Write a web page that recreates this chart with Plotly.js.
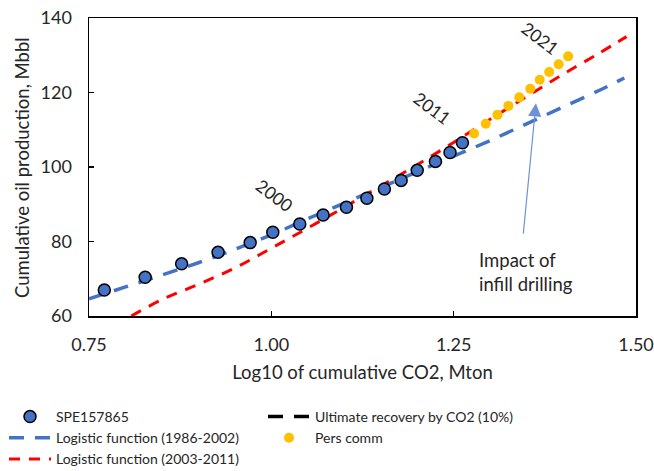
<!DOCTYPE html>
<html>
<head>
<meta charset="utf-8">
<script src="https://cdn.plot.ly/plotly-3.0.1.min.js"></script>
<style>
  html, body { margin: 0; padding: 0; background: #fff; }
  #chart { width: 654px; height: 471px; }
</style>
</head>
<body>
<div id="chart"></div>
<script>
// Field data: log10 of cumulative CO2 injected (Mton) vs cumulative oil (Mbbl)
const speLogCO2 = [0.771, 0.827, 0.877, 0.927, 0.971, 1.002, 1.039, 1.071, 1.103, 1.131, 1.155, 1.178, 1.200, 1.225, 1.245, 1.262];
const speOil    = [67.0, 70.4, 74.0, 77.1, 79.7, 82.5, 84.7, 87.1, 89.2, 91.6, 94.1, 96.4, 99.1, 101.5, 103.9, 106.5];

const persLogCO2 = [1.278, 1.294, 1.310, 1.325, 1.340, 1.355, 1.368, 1.381, 1.394, 1.407];
const persOil    = [109.0, 111.6, 114.0, 116.4, 118.7, 121.0, 123.4, 125.5, 127.6, 129.7];

// Logistic fits, sampled along the curves
const fit8602LogCO2 = [0.75, 0.80, 0.85, 0.90, 0.95, 1.00, 1.05, 1.10, 1.15, 1.20, 1.25, 1.30, 1.35, 1.40, 1.45, 1.484];
const fit8602Oil    = [64.6, 67.8, 71.0, 74.3, 77.9, 81.8, 86.1, 90.3, 94.5, 98.7, 102.9, 107.1, 111.6, 116.1, 120.6, 123.9];

const fit0311LogCO2 = [0.808, 0.85, 0.90, 0.95, 1.00, 1.05, 1.10, 1.15, 1.20, 1.25, 1.30, 1.35, 1.40, 1.45, 1.487];
const fit0311Oil    = [60.0, 64.4, 68.5, 72.9, 78.2, 83.6, 89.2, 94.9, 100.6, 106.6, 112.8, 118.9, 124.9, 130.6, 135.0];

// Ultimate recovery by CO2 (10%) lies outside the plotted window; legend entry only
const ultimateLogCO2 = [null];
const ultimateOil    = [null];

const yearLabels = ['2000', '2011', '2021'];
const yearLabelX = [1.004, 1.221, 1.369];
const yearLabelY = [92.3, 115.8, 134.6];

const xTicks = [0.75, 1.00, 1.25, 1.50];
const yTicks = [60, 80, 100, 120, 140];

const BLUE = '#4472C4', RED = '#FF0000', GOLD = '#FFC000';
const TXT = '#262626';
const FONT = 'Lato, "Open Sans", sans-serif';

const traces = [
  {
    x: fit8602LogCO2, y: fit8602Oil, type: 'scatter', mode: 'lines',
    name: 'Logistic function (1986-2002)', legend: 'legend', legendrank: 2,
    line: { color: BLUE, width: 3.5, dash: '15px,11px', shape: 'spline' }
  },
  {
    x: fit0311LogCO2, y: fit0311Oil, type: 'scatter', mode: 'lines',
    name: 'Logistic function (2003-2011)', legend: 'legend', legendrank: 3,
    line: { color: RED, width: 3, dash: '11px,9px', shape: 'spline' }
  },
  {
    x: ultimateLogCO2, y: ultimateOil, type: 'scatter', mode: 'lines',
    name: 'Ultimate recovery by CO2 (10%)', legend: 'legend2', legendrank: 1,
    line: { color: '#000000', width: 3.5, dash: '15px,11px' }
  },
  {
    x: speLogCO2, y: speOil, type: 'scatter', mode: 'markers',
    name: 'SPE157865', legend: 'legend', legendrank: 1,
    marker: { color: BLUE, size: 12, line: { color: '#000000', width: 1.5 } }
  },
  {
    x: persLogCO2, y: persOil, type: 'scatter', mode: 'markers',
    name: 'Pers comm', legend: 'legend2', legendrank: 2,
    marker: { color: GOLD, size: 10 }
  }
];

const annotations = yearLabels.map((t, i) => ({
  x: yearLabelX[i], y: yearLabelY[i], xref: 'x', yref: 'y',
  text: t, showarrow: false, textangle: 37,
  xanchor: 'center', yanchor: 'middle',
  font: { family: FONT, size: 17.5, color: TXT }
}));

// Arrow pointing at the gap between the two fits
annotations.push({
  x: 1.3628, y: 117.1, ax: 1.3453, ay: 81.7,
  xref: 'x', yref: 'y', axref: 'x', ayref: 'y',
  text: '', showarrow: true, arrowhead: 2, arrowsize: 2.2, arrowwidth: 1.2,
  arrowcolor: '#6E92D6'
});
annotations.push({
  x: 1.2814, y: 71.9, xref: 'x', yref: 'y',
  text: 'Impact of<br>infill drilling', showarrow: false,
  xanchor: 'left', yanchor: 'middle', align: 'left',
  font: { family: FONT, size: 18.5, color: TXT }
});

// Y-axis title, placed beside the tick labels
annotations.push({
  x: -0.1225, y: 0.5, xref: 'paper', yref: 'paper',
  text: 'Cumulative oil production, Mbbl', showarrow: false, textangle: -90,
  xanchor: 'center', yanchor: 'middle',
  font: { family: FONT, size: 18.5, color: TXT }
});

const axisCommon = {
  showline: true, linecolor: '#000000', linewidth: 1.5, mirror: true,
  showgrid: false, zeroline: false, automargin: false,
  ticks: 'inside', ticklen: 5, tickwidth: 1.2, tickcolor: '#000000',
  tickfont: { family: FONT, size: 18, color: TXT }
};

const legendCommon = {
  xref: 'container', yref: 'container', xanchor: 'left', yanchor: 'top',
  orientation: 'v', itemwidth: 42,
  font: { family: FONT, size: 14, color: TXT }, bgcolor: 'rgba(0,0,0,0)',
  traceorder: 'normal', itemclick: false
};

const layout = {
  width: 654, height: 471,
  margin: { l: 89, r: 18, t: 18, b: 155, autoexpand: false },
  paper_bgcolor: '#ffffff', plot_bgcolor: '#ffffff',
  font: { family: FONT, color: TXT },
  showlegend: true,
  xaxis: Object.assign({}, axisCommon, {
    range: [0.75, 1.5], tickvals: xTicks, tickformat: '.2f',
    ticklabelstandoff: 12,
    title: { text: 'Log10 of cumulative CO2, Mton', font: { family: FONT, size: 18.5, color: TXT }, standoff: 12 }
  }),
  yaxis: Object.assign({}, axisCommon, {
    range: [60, 140], tickvals: yTicks,
    ticklabelstandoff: 12
  }),
  legend: Object.assign({}, legendCommon, { x: 4 / 654, y: 1 - 401 / 471 }),
  legend2: Object.assign({}, legendCommon, { x: 263 / 654, y: 1 - 401 / 471 }),
  annotations: annotations
};

Plotly.newPlot('chart', traces, layout, { displayModeBar: false, staticPlot: true });
</script>
</body>
</html>
